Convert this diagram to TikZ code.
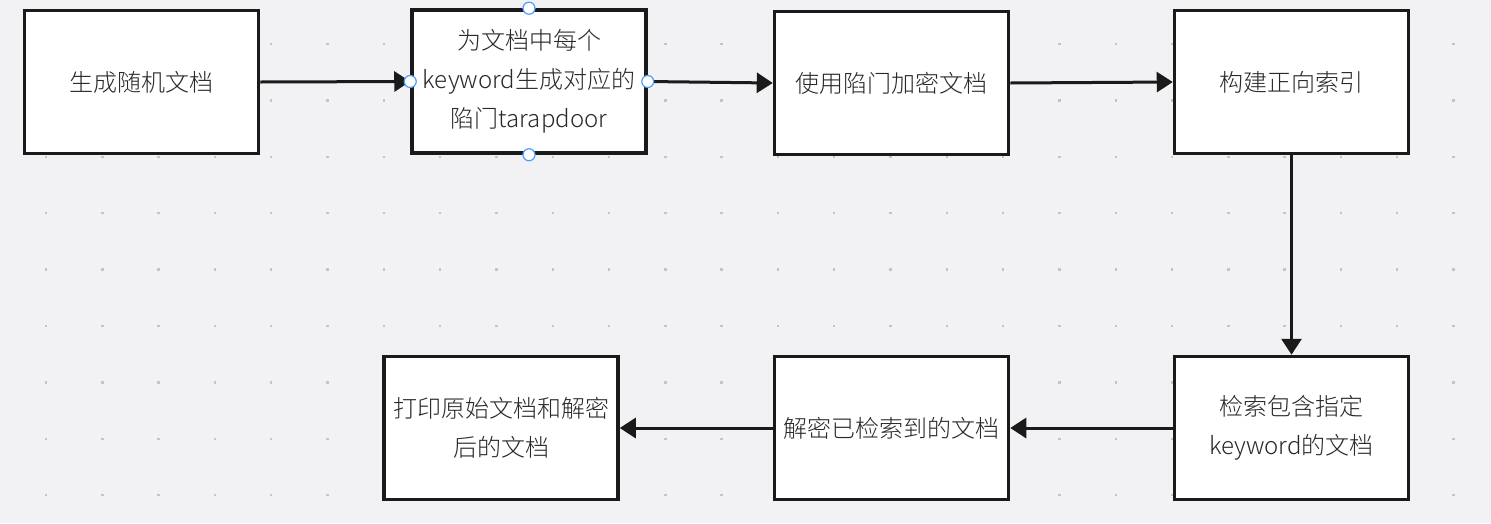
\documentclass[tikz,border=0pt]{standalone}
\usepackage{fontspec}
\setmainfont{Noto Sans CJK SC}[UprightFont=* Light]
\usetikzlibrary{arrows.meta}
\definecolor{bgc}{RGB}{242,242,244}
\definecolor{dotc}{RGB}{196,196,200}
\definecolor{txtc}{RGB}{40,40,40}
\definecolor{linec}{RGB}{26,26,26}
\definecolor{handc}{RGB}{74,158,255}
\tikzset{
  stepbox/.style={draw=linec, fill=white, line width=3.5pt, minimum width=234pt, minimum height=143pt,
    inner sep=0pt, align=center, text=txtc, font=\fontsize{24}{39}\selectfont},
  flow/.style={draw=linec, line width=3pt, -{Triangle[length=16pt,width=20pt]}},
  handle/.style={circle, draw=handc, fill=white, line width=1.2pt, minimum size=12pt, inner sep=0pt}
}
\begin{document}
\begin{tikzpicture}[x=1pt,y=-1pt]
\useasboundingbox (0,0) rectangle (1491,523);
\fill[bgc] (0,0) rectangle (1491,523);
\foreach \i in {0,...,25}{
  \foreach \j in {0,...,8}{
    \fill[dotc] ({46+56.3*\i-1.2},{44+56.4*\j-1.2}) rectangle +(2.4,2.4);
  }
}
\node[stepbox] (b1) at (141.5,82) {生成随机文档};
\node[stepbox] (b2) at (529,81.5) {为文档中每个\\keyword生成对应的\\陷门tarapdoor};
\node[stepbox] (b3) at (891.5,83) {使用陷门加密文档};
\node[stepbox] (b4) at (1291.5,82) {构建正向索引};
\node[stepbox] (b5) at (1291.5,428) {检索包含指定\\keyword的文档};
\node[stepbox] (b6) at (891.5,428) {解密已检索到的文档};
\node[stepbox] (b7) at (501,428) {打印原始文档和解密\\后的文档};
\draw[flow] (b1.east) -- (b2.west);
\draw[flow] (b2.east) -- (b3.west);
\draw[flow] (b3.east) -- (b4.west);
\draw[flow] (b4.south) -- (b5.north);
\draw[flow] (b5.west) -- (b6.east);
\draw[flow] (b6.west) -- (b7.east);
\node[handle] (h1) at (b2.north) {};
\node[handle] (h2) at (b2.south) {};
\node[handle] (h3) at (b2.west) {};
\node[handle] (h4) at (b2.east) {};
\end{tikzpicture}
\end{document}
